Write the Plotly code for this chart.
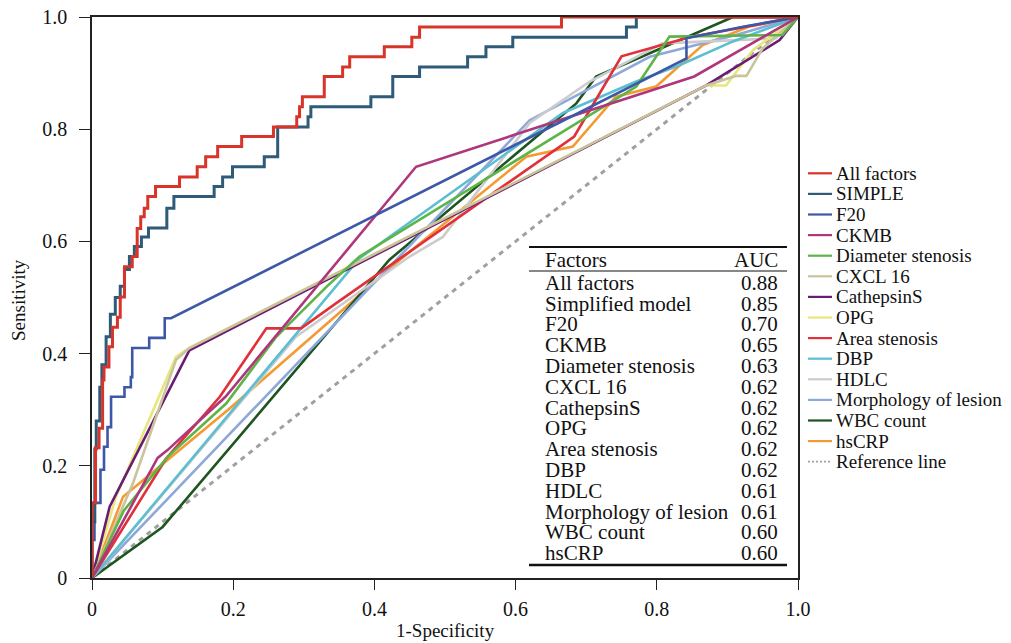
import plotly.graph_objects as go

# ---------------- data ----------------
FPR_ALL = [0, 0.005, 0.010, 0.015, 0.017, 0.024, 0.029, 0.036, 0.040, 0.046, 0.057,
           0.064, 0.069, 0.074, 0.079, 0.090, 0.124, 0.149, 0.161, 0.178, 0.212,
           0.257, 0.290, 0.294, 0.298, 0.329, 0.355, 0.365, 0.414, 0.453, 0.464,
           0.665, 1.0]
TPR_ALL = [0, 0.134, 0.232, 0.267, 0.353, 0.376, 0.412, 0.447, 0.465, 0.501, 0.555,
           0.573, 0.623, 0.644, 0.659, 0.680, 0.698, 0.715, 0.733, 0.751, 0.769,
           0.787, 0.804, 0.822, 0.840, 0.858, 0.894, 0.911, 0.929, 0.947, 0.964,
           0.982, 1.0]

FPR_SIMPLE = [0, 0.004, 0.006, 0.011, 0.014, 0.020, 0.026, 0.033, 0.040, 0.046, 0.053,
              0.060, 0.070, 0.080, 0.106, 0.116, 0.173, 0.185, 0.199, 0.244, 0.263,
              0.306, 0.310, 0.395, 0.426, 0.464, 0.532, 0.558, 0.596, 0.757, 0.771, 1.0]
TPR_SIMPLE = [0, 0.100, 0.230, 0.280, 0.340, 0.380, 0.430, 0.470, 0.500, 0.520, 0.550,
              0.573, 0.591, 0.608, 0.624, 0.659, 0.680, 0.698, 0.715, 0.733, 0.751,
              0.804, 0.822, 0.840, 0.858, 0.894, 0.911, 0.929, 0.947, 0.964, 0.982, 1.0]

FPR_F20 = [0, 0, 0.0035, 0.0035, 0.012, 0.012, 0.017, 0.017, 0.022, 0.022, 0.027, 0.027,
           0.046, 0.046, 0.055, 0.055, 0.057, 0.057, 0.081, 0.081, 0.103, 0.103, 0.112,
           0.842, 0.842, 0.924, 1.0]
TPR_F20 = [0, 0.068, 0.068, 0.134, 0.134, 0.193, 0.193, 0.234, 0.234, 0.269, 0.269, 0.323,
           0.323, 0.340, 0.340, 0.358, 0.358, 0.410, 0.410, 0.428, 0.428, 0.463, 0.463,
           0.926, 0.962, 0.983, 1.0]

FPR_CKMB = [0, 0.093, 0.107, 0.189, 0.459, 0.853, 1.0]
TPR_CKMB = [0, 0.214, 0.228, 0.323, 0.733, 0.894, 1.0]

FPR_DIAM = [0, 0.045, 0.107, 0.190, 0.261, 0.332, 0.379, 0.771, 0.818, 0.978, 1.0]
TPR_DIAM = [0, 0.120, 0.216, 0.311, 0.430, 0.519, 0.573, 0.876, 0.965, 0.968, 1.0]

FPR_CXCL = [0, 0.058, 0.119, 0.138, 0.870, 0.912, 0.927, 0.950, 1.0]
TPR_CXCL = [0, 0.169, 0.389, 0.410, 0.878, 0.895, 0.895, 0.944, 1.0]

FPR_CATS = [0, 0.025, 0.138, 0.870, 0.974, 1.0]
TPR_CATS = [0, 0.127, 0.406, 0.878, 0.959, 1.0]

FPR_OPG = [0, 0.034, 0.119, 0.138, 0.870, 0.898, 0.936, 1.0]
TPR_OPG = [0, 0.145, 0.394, 0.410, 0.878, 0.878, 0.941, 1.0]

FPR_AREA = [0, 0.105, 0.181, 0.247, 0.296, 0.346, 0.683, 0.750, 0.846, 1.0]
TPR_AREA = [0, 0.213, 0.323, 0.445, 0.445, 0.490, 0.787, 0.930, 0.964, 1.0]

FPR_DBP = [0, 0.379, 0.667, 0.771, 0.832, 0.907, 1.0]
TPR_DBP = [0, 0.570, 0.829, 0.885, 0.914, 0.956, 1.0]

FPR_HDLC = [0, 0.289, 0.450, 0.497, 0.620, 0.705, 0.808, 0.969, 1.0]
TPR_HDLC = [0, 0.430, 0.573, 0.608, 0.811, 0.885, 0.953, 0.962, 1.0]

FPR_MORPH = [0, 0.620, 0.790, 0.837, 0.912, 1.0]
TPR_MORPH = [0, 0.816, 0.929, 0.944, 0.968, 1.0]

FPR_WBC = [0, 0.100, 0.421, 0.686, 0.714, 0.908, 1.0]
TPR_WBC = [0, 0.091, 0.567, 0.846, 0.894, 1.0, 1.0]

FPR_CRP = [0, 0.044, 0.192, 0.436, 0.615, 0.681, 0.742, 0.799, 0.865, 0.931, 1.0]
TPR_CRP = [0, 0.145, 0.299, 0.567, 0.751, 0.769, 0.858, 0.876, 0.950, 0.983, 1.0]

FPR_REF = [0, 1]
TPR_REF = [0, 1]

LEGEND_NAMES = ["All factors", "SIMPLE", "F20", "CKMB", "Diameter stenosis", "CXCL 16",
                "CathepsinS", "OPG", "Area stenosis", "DBP", "HDLC",
                "Morphology of lesion", "WBC count", "hsCRP", "Reference line"]

TABLE_FACTORS = ["All factors", "Simplified model", "F20", "CKMB", "Diameter stenosis",
                 "CXCL 16", "CathepsinS", "OPG", "Area stenosis", "DBP", "HDLC",
                 "Morphology of lesion", "WBC count", "hsCRP"]
TABLE_AUC = ["0.88", "0.85", "0.70", "0.65", "0.63", "0.62", "0.62", "0.62", "0.62",
             "0.62", "0.61", "0.61", "0.60", "0.60"]

TICK_VALS = [0, 0.2, 0.4, 0.6, 0.8, 1.0]
TICK_TEXT = ["0", "0.2", "0.4", "0.6", "0.8", "1.0"]

# ---------------- styling ----------------
FONT = "Liberation Serif, Times New Roman, serif"
OFF = 8                      # page body margin of the html page
W, H = 1003, 635
L, T = 92 - OFF, 17 - OFF
PW, PH = 706, 561
R, B = W - L - PW, H - T - PH

series = [
    (LEGEND_NAMES[0], FPR_ALL, TPR_ALL, "#d8342a", 3, "vh", "solid"),
    (LEGEND_NAMES[1], FPR_SIMPLE, TPR_SIMPLE, "#2e5b78", 3, "vh", "solid"),
    (LEGEND_NAMES[2], FPR_F20, TPR_F20, "#3e58a8", 2.6, "linear", "solid"),
    (LEGEND_NAMES[3], FPR_CKMB, TPR_CKMB, "#b0367b", 2.6, "linear", "solid"),
    (LEGEND_NAMES[4], FPR_DIAM, TPR_DIAM, "#5db447", 2.6, "linear", "solid"),
    (LEGEND_NAMES[5], FPR_CXCL, TPR_CXCL, "#c9c49c", 2.6, "linear", "solid"),
    (LEGEND_NAMES[6], FPR_CATS, TPR_CATS, "#6a1b74", 2.6, "linear", "solid"),
    (LEGEND_NAMES[7], FPR_OPG, TPR_OPG, "#e8e77c", 2.6, "linear", "solid"),
    (LEGEND_NAMES[8], FPR_AREA, TPR_AREA, "#e0303a", 2.6, "linear", "solid"),
    (LEGEND_NAMES[9], FPR_DBP, TPR_DBP, "#5cbfd1", 2.6, "linear", "solid"),
    (LEGEND_NAMES[10], FPR_HDLC, TPR_HDLC, "#cccccc", 2.6, "linear", "solid"),
    (LEGEND_NAMES[11], FPR_MORPH, TPR_MORPH, "#8ea8da", 2.6, "linear", "solid"),
    (LEGEND_NAMES[12], FPR_WBC, TPR_WBC, "#1e5420", 2.6, "linear", "solid"),
    (LEGEND_NAMES[13], FPR_CRP, TPR_CRP, "#f39a33", 2.6, "linear", "solid"),
    (LEGEND_NAMES[14], FPR_REF, TPR_REF, "#a0a0a0", 3, "linear", "5px,5px"),
]

fig = go.Figure()
# reference first (bottom), then the rest in reverse so "All factors" is on top
draw_order = [series[-1]] + list(reversed(series[:-1]))
for name, xs, ys, col, lw, shape, dash in draw_order:
    fig.add_trace(go.Scatter(x=xs, y=ys, mode="lines", name=name,
                             line=dict(color=col, width=lw, shape=shape, dash=dash),
                             showlegend=False, hoverinfo="skip"))


def px2x(px):
    # page pixel -> paper x
    return (px - OFF - L) / PW


def py2y(py):
    # page pixel -> paper y
    return (T + PH - (py - OFF)) / PH


shapes = []
annotations = []

# ---- manual legend ----
for i, (name, xs, ys, col, lw, shape, dash) in enumerate(series):
    yc = py2y(173.3 + 20.6 * i)
    shapes.append(dict(type="line", xref="paper", yref="paper",
                       x0=px2x(808), x1=px2x(832), y0=yc, y1=yc,
                       line=dict(color=col, width=2.2 if dash == "solid" else 1.8,
                                 dash="solid" if dash == "solid" else "2px,2px")))
    annotations.append(dict(xref="paper", yref="paper", x=px2x(834), y=yc,
                            text=name, showarrow=False, xanchor="left", yanchor="middle",
                            font=dict(family=FONT, size=19, color="#111")))

# ---- AUC table ----
tx0, tx1 = px2x(529), px2x(787)
shapes.append(dict(type="line", xref="paper", yref="paper", x0=tx0, x1=tx1,
                   y0=py2y(247), y1=py2y(247), line=dict(color="#111", width=2)))
shapes.append(dict(type="line", xref="paper", yref="paper", x0=tx0, x1=tx1,
                   y0=py2y(271), y1=py2y(271), line=dict(color="#111", width=1.2)))
shapes.append(dict(type="line", xref="paper", yref="paper", x0=tx0, x1=tx1,
                   y0=py2y(565), y1=py2y(565), line=dict(color="#111", width=2.5)))
TFS = 21
annotations.append(dict(xref="paper", yref="paper", x=px2x(543), y=py2y(259.5),
                        text="Factors", showarrow=False, xanchor="left", yanchor="middle",
                        font=dict(family=FONT, size=TFS, color="#111")))
annotations.append(dict(xref="paper", yref="paper", x=px2x(780), y=py2y(259.5),
                        text="AUC", showarrow=False, xanchor="right", yanchor="middle",
                        font=dict(family=FONT, size=TFS, color="#111")))
for i, (f, a) in enumerate(zip(TABLE_FACTORS, TABLE_AUC)):
    yc = py2y(282.7 + 20.8 * i)
    annotations.append(dict(xref="paper", yref="paper", x=px2x(543), y=yc, text=f,
                            showarrow=False, xanchor="left", yanchor="middle",
                            font=dict(family=FONT, size=TFS, color="#111")))
    annotations.append(dict(xref="paper", yref="paper", x=px2x(780), y=yc, text=a,
                            showarrow=False, xanchor="right", yanchor="middle",
                            font=dict(family=FONT, size=TFS, color="#111")))

# ---- axis titles ----
annotations.append(dict(xref="paper", yref="paper", x=px2x(445), y=py2y(630),
                        text="1-Specificity", showarrow=False, xanchor="center",
                        yanchor="middle", font=dict(family=FONT, size=19, color="#111")))
annotations.append(dict(xref="paper", yref="paper", x=px2x(19), y=py2y(300),
                        text="Sensitivity", showarrow=False, xanchor="center",
                        yanchor="middle", textangle=-90,
                        font=dict(family=FONT, size=19, color="#111")))

axis_common = dict(range=[0, 1], tickvals=TICK_VALS, ticktext=TICK_TEXT,
                   showgrid=False, zeroline=False, showline=True, linecolor="#222",
                   linewidth=1.5, mirror=True, ticks="outside", tickcolor="#222",
                   tickwidth=1.2, automargin=False, ticklabeloverflow="allow",
                   tickfont=dict(family=FONT, size=20, color="#111"))

fig.update_layout(
    width=W, height=H, margin=dict(l=L, r=R, t=T, b=B, pad=0, autoexpand=False),
    paper_bgcolor="white", plot_bgcolor="white",
    xaxis=dict(**axis_common, ticklen=10, ticklabelstandoff=2),
    yaxis=dict(**axis_common, ticklen=11, ticklabelstandoff=8),
    shapes=shapes, annotations=annotations, showlegend=False,
)

fig.write_html("out.html")
